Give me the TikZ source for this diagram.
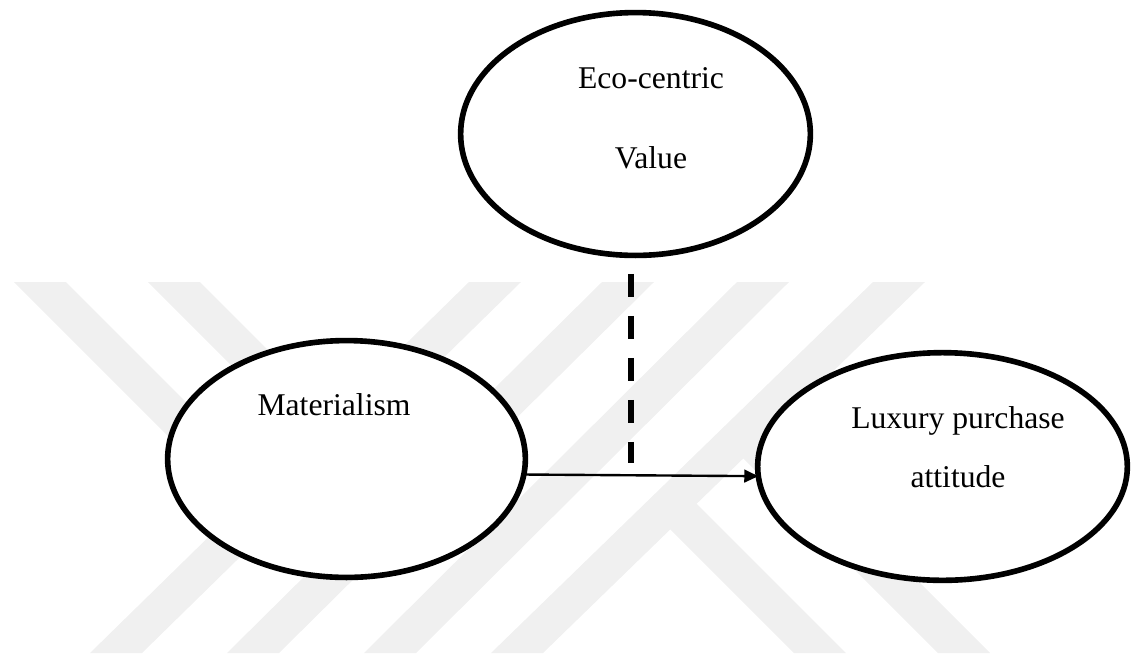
\documentclass[tikz,border=0pt]{standalone}
\usepackage{fontspec}
\setmainfont{Liberation Serif}
\usetikzlibrary{arrows.meta,shapes.geometric}
\tikzset{every node/.append style={font=\fontsize{22.5}{27}\selectfont}}
\tikzset{latent/.style={draw, ellipse, line width=4pt, fill=white, inner sep=0pt, outer sep=0pt}}
\tikzset{lbl/.style={anchor=base, inner sep=0pt}}
\tikzset{wmband/.style={fill=black!6}}
\tikzset{moddash/.style={line width=4pt, dash pattern=on 0.575cm off 0.475cm}}

\begin{document}
\begin{tikzpicture}[x=0.025cm, y=-0.025cm]
  \useasboundingbox (0,0) rectangle (1131,653);

  % background stripes
  \foreach \t/\b in {469/90, 602/227, 737/364, 873/491}{
    \fill[wmband] (\t,282) -- (\t+52,282) -- (\b+52,653) -- (\b,653) -- cycle;
  };
  \fill[wmband] (14,282) -- (66,282) -- (291,507) -- (239,507) -- cycle;
  \fill[wmband] (148,282) -- (200,282) -- (426,508) -- (374,508) -- cycle;
  \fill[wmband] (794,653) -- (846,653) -- (697,504) -- (645,504) -- cycle;
  \fill[wmband] (938,653) -- (990,653) -- (770,433) -- (718,433) -- cycle;

  \node[latent, minimum width=8.74cm, minimum height=6.07cm] (eco) at (635.5,134) {};
  \node[latent, minimum width=8.94cm, minimum height=5.92cm] (mat) at (346.5,459) {};
  \node[latent, minimum width=9.24cm, minimum height=5.69cm] (lux) at (942.5,466.5) {};

  \node[lbl] (ecotop) at (651,88) {Eco-centric};
  \node[lbl] (ecobot) at (651,168) {Value};
  \node[lbl] (mattxt) at (334,415) {Materialism};
  \node[lbl] (luxtop) at (958,428) {Luxury purchase};
  \node[lbl] (luxbot) at (958,487) {attitude};

  \coordinate (mod) at (631,463);
  \draw[-{Triangle[length=10pt,width=9pt]}, line width=1.7pt] (mat.-5) -- (lux.183.5);
  \draw[moddash, shorten <=0.46cm] (eco.south -| mod) -- (mod);
\end{tikzpicture}
\end{document}
